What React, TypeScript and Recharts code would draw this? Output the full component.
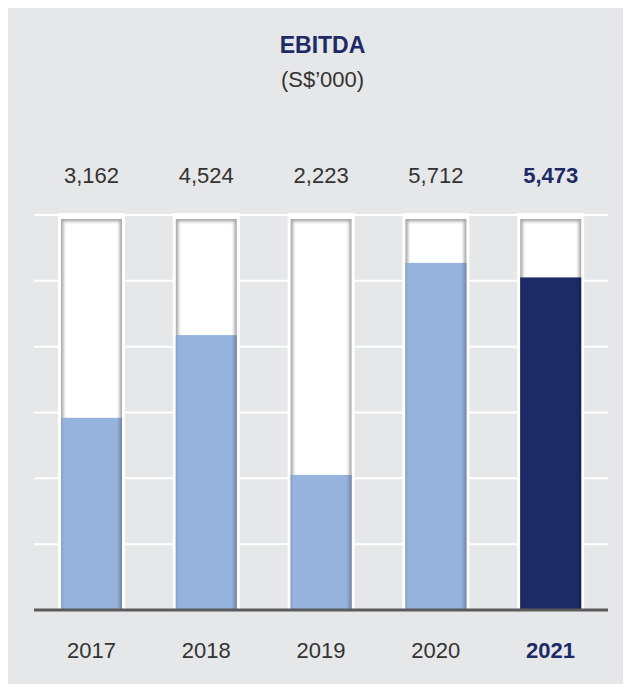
import React from 'react';
import { BarChart, Bar, XAxis, YAxis, CartesianGrid, LabelList } from 'recharts';

const years = ['2017', '2018', '2019', '2020', '2021'];
const ebitda = [3162, 4524, 2223, 5712, 5473];
const highlightYear = '2021';
const yMax = 6500;
const gridTicks = [0, 1, 2, 3, 4, 5, 6].map((i) => (yMax * i) / 6);

const data = years.map((year, i) => ({ year, value: ebitda[i] }));

const W = 623;
const H = 676;
const MARGIN = { top: 207, right: 23, bottom: 44, left: 26 };
const NAVY = '#1c2b66';
const BLUE = '#95b3dc';
const TEXT = '#333333';
const FONT = '"Liberation Sans", Arial, Helvetica, sans-serif';

const fmt = (v: number) => v.toLocaleString('en-US');

const TrackShape = (props: any) => {
  const { x, y, width, height } = props;
  if (width == null) return null;
  return (
    <g>
      <rect x={x - 3} y={y - 2} width={width + 6} height={height + 2} fill="#ffffff" />
      <rect x={x} y={y + 4} width={width} height={height - 4} fill="#a9a9a9" />
      <rect
        x={x + 2.5}
        y={y + 6.5}
        width={width - 5}
        height={height - 12}
        fill="#ffffff"
        filter="url(#softBlur)"
      />
    </g>
  );
};

const BarShape = (props: any) => {
  const { x, y, width, height, payload } = props;
  const fill = payload && payload.year === highlightYear ? NAVY : BLUE;
  return (
    <g>
      <rect x={x} y={y} width={width} height={height} fill={fill} />
      <rect x={x + width - 5} y={y} width={5} height={height} fill="url(#edgeShade)" />
      <rect x={x} y={y} width={3} height={height} fill="url(#edgeShadeL)" />
    </g>
  );
};

const ValueLabel = (props: any) => {
  const { x, width, value, index } = props;
  const bold = years[index] === highlightYear;
  return (
    <text
      x={x + width / 2}
      y={MARGIN.top - 32}
      textAnchor="middle"
      fontFamily={FONT}
      fontSize={22}
      fontWeight={bold ? 700 : 400}
      fill={bold ? NAVY : TEXT}
    >
      {fmt(value)}
    </text>
  );
};

const YearTick = (props: any) => {
  const { x, y, payload } = props;
  const bold = payload.value === highlightYear;
  return (
    <text
      x={x}
      y={y + 48}
      textAnchor="middle"
      fontFamily={FONT}
      fontSize={22}
      fontWeight={bold ? 700 : 400}
      fill={bold ? NAVY : TEXT}
    >
      {payload.value}
    </text>
  );
};

export default function App() {
  return (
    <div style={{ position: 'relative', width: W, height: H, background: '#e6e7e9', fontFamily: FONT }}>
      <div
        style={{
          position: 'absolute',
          left: 0,
          width: W,
          top: 24,
          textAlign: 'center',
          fontSize: 23,
          fontWeight: 700,
          color: NAVY,
          lineHeight: '26px',
          paddingLeft: 3,
        }}
      >
        EBITDA
      </div>
      <div
        style={{
          position: 'absolute',
          left: 0,
          width: W,
          top: 59,
          textAlign: 'center',
          fontSize: 22,
          color: TEXT,
          lineHeight: '26px',
          paddingLeft: 3,
        }}
      >
        (S$’000)
      </div>
      <div style={{ position: 'absolute', left: 0, top: 0 }}>
        <BarChart width={W} height={H} data={data} margin={MARGIN}>
          <defs>
            <filter id="softBlur" x="-30%" y="-10%" width="160%" height="120%">
              <feGaussianBlur stdDeviation="1.6" />
            </filter>
            <linearGradient id="edgeShade" x1="0" y1="0" x2="1" y2="0">
              <stop offset="0%" stopColor="#000" stopOpacity={0} />
              <stop offset="100%" stopColor="#000" stopOpacity={0.25} />
            </linearGradient>
            <linearGradient id="edgeShadeL" x1="0" y1="0" x2="1" y2="0">
              <stop offset="0%" stopColor="#000" stopOpacity={0.1} />
              <stop offset="100%" stopColor="#000" stopOpacity={0} />
            </linearGradient>
          </defs>
          <CartesianGrid vertical={false} stroke="#ffffff" strokeWidth={2} />
          <YAxis hide domain={[0, yMax]} ticks={gridTicks} />
          <XAxis
            dataKey="year"
            height={30}
            axisLine={{ stroke: '#5b5b5b', strokeWidth: 3 }}
            tickLine={false}
            tickSize={0}
            tickMargin={0}
            tick={<YearTick />}
            interval={0}
          />
          <Bar
            dataKey="value"
            barSize={61}
            isAnimationActive={false}
            background={<TrackShape />}
            shape={<BarShape />}
          >
            <LabelList dataKey="value" content={<ValueLabel />} />
          </Bar>
        </BarChart>
      </div>
    </div>
  );
}
